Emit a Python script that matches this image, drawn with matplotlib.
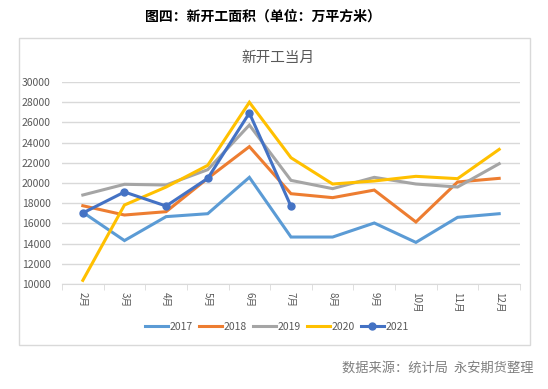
import matplotlib
matplotlib.use("Agg")
import matplotlib.pyplot as plt
from matplotlib.patches import Rectangle

plt.rcParams['font.family'] = ['Noto Sans CJK SC', 'DejaVu Sans']

months = ['2月', '3月', '4月', '5月', '6月', '7月', '8月', '9月', '10月', '11月', '12月']
y2017 = [17100, 14300, 16670, 16960, 20560, 14650, 14650, 16040, 14120, 16600, 16960]
y2018 = [17750, 16830, 17160, 20460, 23600, 18940, 18550, 19300, 16140, 20100, 20460]
y2019 = [18810, 19870, 19800, 21320, 25740, 20260, 19440, 20560, 19900, 19600, 21910]
y2020 = [10360, 17820, 19600, 21750, 27990, 22500, 19900, 20200, 20660, 20430, 23330]
y2021 = [17030, 19110, 17720, 20460, 26930, 17690]

series = [('2017', y2017, '#5B9BD5'), ('2018', y2018, '#ED7D31'),
          ('2019', y2019, '#A5A5A5'), ('2020', y2020, '#FFC000')]

fig = plt.figure(figsize=(5.48, 3.89), dpi=100)
fig.patches.append(Rectangle((19/548, 1-345/389), 511/548, 307/389, transform=fig.transFigure,
                             fill=False, edgecolor='#D9D9D9', linewidth=1))

fig.text(0.48, 1-17/389, '图四：新开工面积（单位：万平方米）', ha='center', va='center',
         fontsize=10, color='black', fontweight='bold')
fig.text(278/548, 1-58/389, '新开工当月', ha='center', va='center', fontsize=10.5, color='#595959')
fig.text(533/548, 1-368/389, '数据来源：统计局  永安期货整理', ha='right', va='center',
         fontsize=9.5, color='#7F7F7F')

ax = fig.add_axes([62/548, 1-284/389, 458/548, 202/389])
x = list(range(len(months)))
for name, vals, col in series:
    ax.plot(x, vals, color=col, linewidth=2.2, label=name, solid_joinstyle='miter')
ax.plot(x[:len(y2021)], y2021, color='#4472C4', linewidth=2.2, marker='o', markersize=5, label='2021')

ax.set_xlim(-0.5, len(months) - 0.5)
ax.set_ylim(10000, 30000)
ax.set_yticks(range(10000, 30001, 2000))
ax.tick_params(axis='y', length=0, labelsize=7.5, labelcolor='#595959', pad=8)
ax.set_xticks(x)
ax.set_xticklabels(months, rotation=270, fontsize=7, color='#595959')
ax.set_xticks([i - 0.5 for i in range(len(months) + 1)], minor=True)
ax.tick_params(axis='x', which='major', length=0, pad=6)
ax.tick_params(axis='x', which='minor', length=4, color='#D9D9D9')
ax.grid(axis='y', color='#D9D9D9', linewidth=1)
ax.set_axisbelow(True)
for s in ['top', 'right', 'left']:
    ax.spines[s].set_visible(False)
ax.spines['bottom'].set_color('#D9D9D9')

fig.legend(loc='center', bbox_to_anchor=(277/548, 1-327/389), ncol=5, frameon=False,
           fontsize=7.5, handlelength=2.2, handletextpad=0.15, columnspacing=0.6,
           labelcolor='#595959')

fig.savefig('out.png', dpi=100)
